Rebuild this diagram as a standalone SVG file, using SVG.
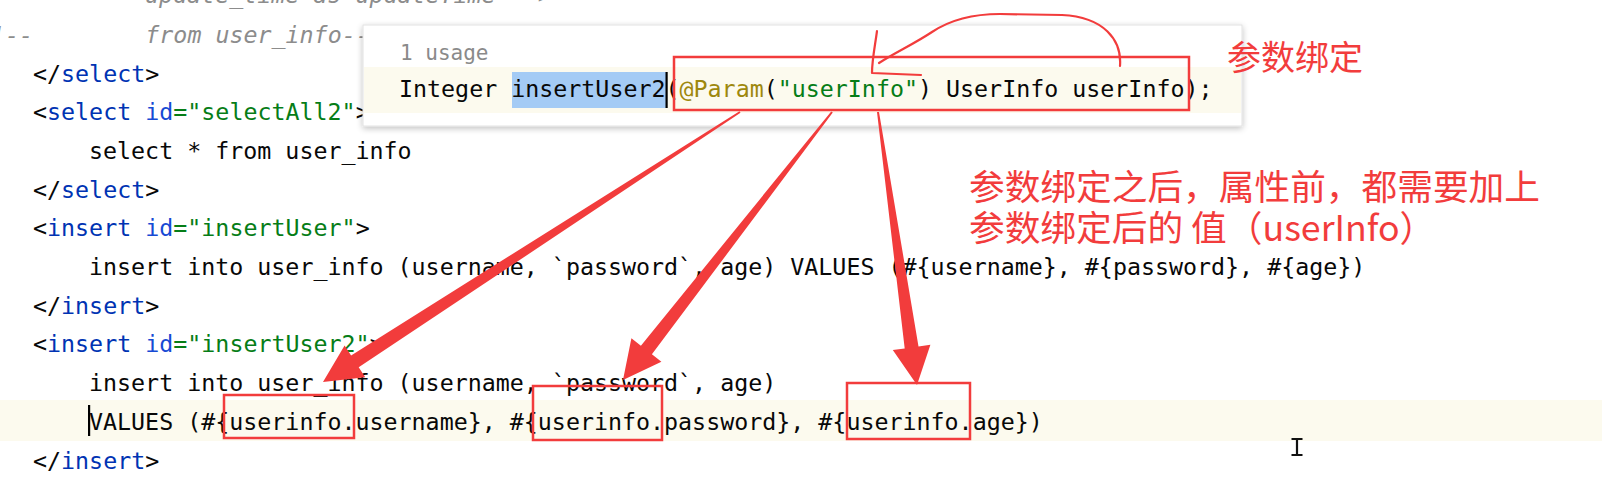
<svg xmlns="http://www.w3.org/2000/svg" width="1602" height="485" viewBox="0 0 1602 485">
<style>
.code{font-family:"DejaVu Sans Mono","Liberation Mono",monospace;font-size:23.3px;fill:#080808;white-space:pre}
.tag{fill:#0033B3}
.attr{fill:#174AD4}
.str{fill:#067D17}
.ann-a{fill:#9E880D}
.cmt{fill:#8C8C8C;font-style:italic}
.hint{font-family:"DejaVu Sans Mono","Liberation Mono",monospace;font-size:21px;fill:#8A8A8A}
.ann{font-family:"Noto Sans CJK SC","Noto Sans",sans-serif;fill:#F23C3C}
.box{fill:none;stroke:#F23C3C;stroke-width:2.5}
.arrow{fill:#F23C3C}
.scribble{fill:none;stroke:#F23C3C;stroke-width:2.2;stroke-linecap:round;stroke-linejoin:round}
</style>
<defs>
<filter id="shadow" x="-5%" y="-30%" width="110%" height="160%">
<feGaussianBlur in="SourceAlpha" stdDeviation="3"/>
<feOffset dx="0" dy="2" result="b"/>
<feComponentTransfer><feFuncA type="linear" slope="0.25"/></feComponentTransfer>
<feMerge><feMergeNode/><feMergeNode in="SourceGraphic"/></feMerge>
</filter>
</defs>
<rect width="1602" height="485" fill="#FFFFFF"/>
<!-- current line highlight -->
<rect x="0" y="400" width="1602" height="41" fill="#FCFAEE"/>

<g id="code">
<text class="code cmt" x="145" y="3">update_time as updateTime --&gt;</text>
<text class="code cmt" x="-23" y="42.8">&lt;!--        from user_info--&gt;</text>
<text class="code" x="33" y="81.5">&lt;/<tspan class="tag">select</tspan>&gt;</text>
<text class="code" x="33" y="120.2">&lt;<tspan class="tag">select</tspan> <tspan class="attr">id</tspan><tspan class="str">="selectAll2"</tspan>&gt;</text>
<text class="code" x="89" y="158.9">select * from user_info</text>
<text class="code" x="33" y="197.6">&lt;/<tspan class="tag">select</tspan>&gt;</text>
<text class="code" x="33" y="236.3">&lt;<tspan class="tag">insert</tspan> <tspan class="attr">id</tspan><tspan class="str">="insertUser"</tspan>&gt;</text>
<text class="code" x="89" y="275">insert into user_info (username, `password`, age) VALUES (#{username}, #{password}, #{age})</text>
<text class="code" x="33" y="313.7">&lt;/<tspan class="tag">insert</tspan>&gt;</text>
<text class="code" x="33" y="352.4">&lt;<tspan class="tag">insert</tspan> <tspan class="attr">id</tspan><tspan class="str">="insertUser2"</tspan>&gt;</text>
<text class="code" x="89" y="391.1">insert into user_info (username, `password`, age)</text>
<text class="code" x="89" y="429.8">VALUES (#{userinfo.username}, #{userinfo.password}, #{userinfo.age})</text>
<text class="code" x="33" y="468.5">&lt;/<tspan class="tag">insert</tspan>&gt;</text>
<rect x="88" y="405" width="2.2" height="31" fill="#000000"/>
</g>

<g id="popup">
<rect x="363" y="25" width="879" height="101" fill="#FFFFFF" stroke="#E2E2E2" stroke-width="1" filter="url(#shadow)"/>
<rect x="364" y="67" width="877" height="46" fill="#FCFAEE"/>
<text class="hint" x="400" y="60">1 usage</text>
<rect x="512" y="72" width="154" height="36" fill="#A4CBF5"/>
<text class="code" x="399" y="97">Integer insertUser2(<tspan class="ann-a">@Param</tspan>(<tspan class="str">"userInfo"</tspan>) UserInfo userInfo);</text>
<rect x="665.5" y="72" width="2.2" height="36" fill="#000000"/>
</g>

<g id="mouse-cursor">
<path d="M1291.5,439 H1302.5 M1297,439 V455 M1291.5,455 H1302.5" fill="none" stroke="#111111" stroke-width="2.2"/>
</g>

<g id="param-box"><rect class="box" x="674" y="57" width="515" height="53"/></g>
<g id="box-username"><rect class="box" x="224" y="395" width="130" height="43"/></g>
<g id="box-password"><rect class="box" x="533" y="386" width="129" height="54"/></g>
<g id="box-age"><rect class="box" x="847" y="383" width="123" height="56"/></g>

<g id="scribble">
<path class="scribble" d="M1120,66 C1122,40 1104,17 1062,15 L1000,14 C972,14 950,20 932,32 C914,44 896,52 879,63"/>
<path class="scribble" d="M877,31 C875,46 872,60 872,73 L921,75"/>
</g>

<g id="label-binding"><text class="ann" x="1227" y="70" font-size="34">参数绑定</text></g>
<g id="label-note">
<text class="ann" x="969" y="200" font-size="35.7">参数绑定之后，属性前，都需要加上</text>
<text class="ann" x="969" y="241" font-size="35.7">参数绑定后的 值（userInfo）</text>
</g>

<g id="connectors">
<polygon class="arrow" points="739.5,111.2 351.1,355.5 344.6,345.5 323,382 365.2,377.3 358.7,367.3 740.5,112.8"/>
<polygon class="arrow" points="831.2,111.4 640.9,345.7 631.4,338.3 623,380 661.4,361.7 651.9,354.3 832.8,112.6"/>
<polygon class="arrow" points="877,112.1 904.7,348.4 892.8,350.1 917,385 930.4,344.7 918.5,346.4 879,111.9"/>
</g>
</svg>
